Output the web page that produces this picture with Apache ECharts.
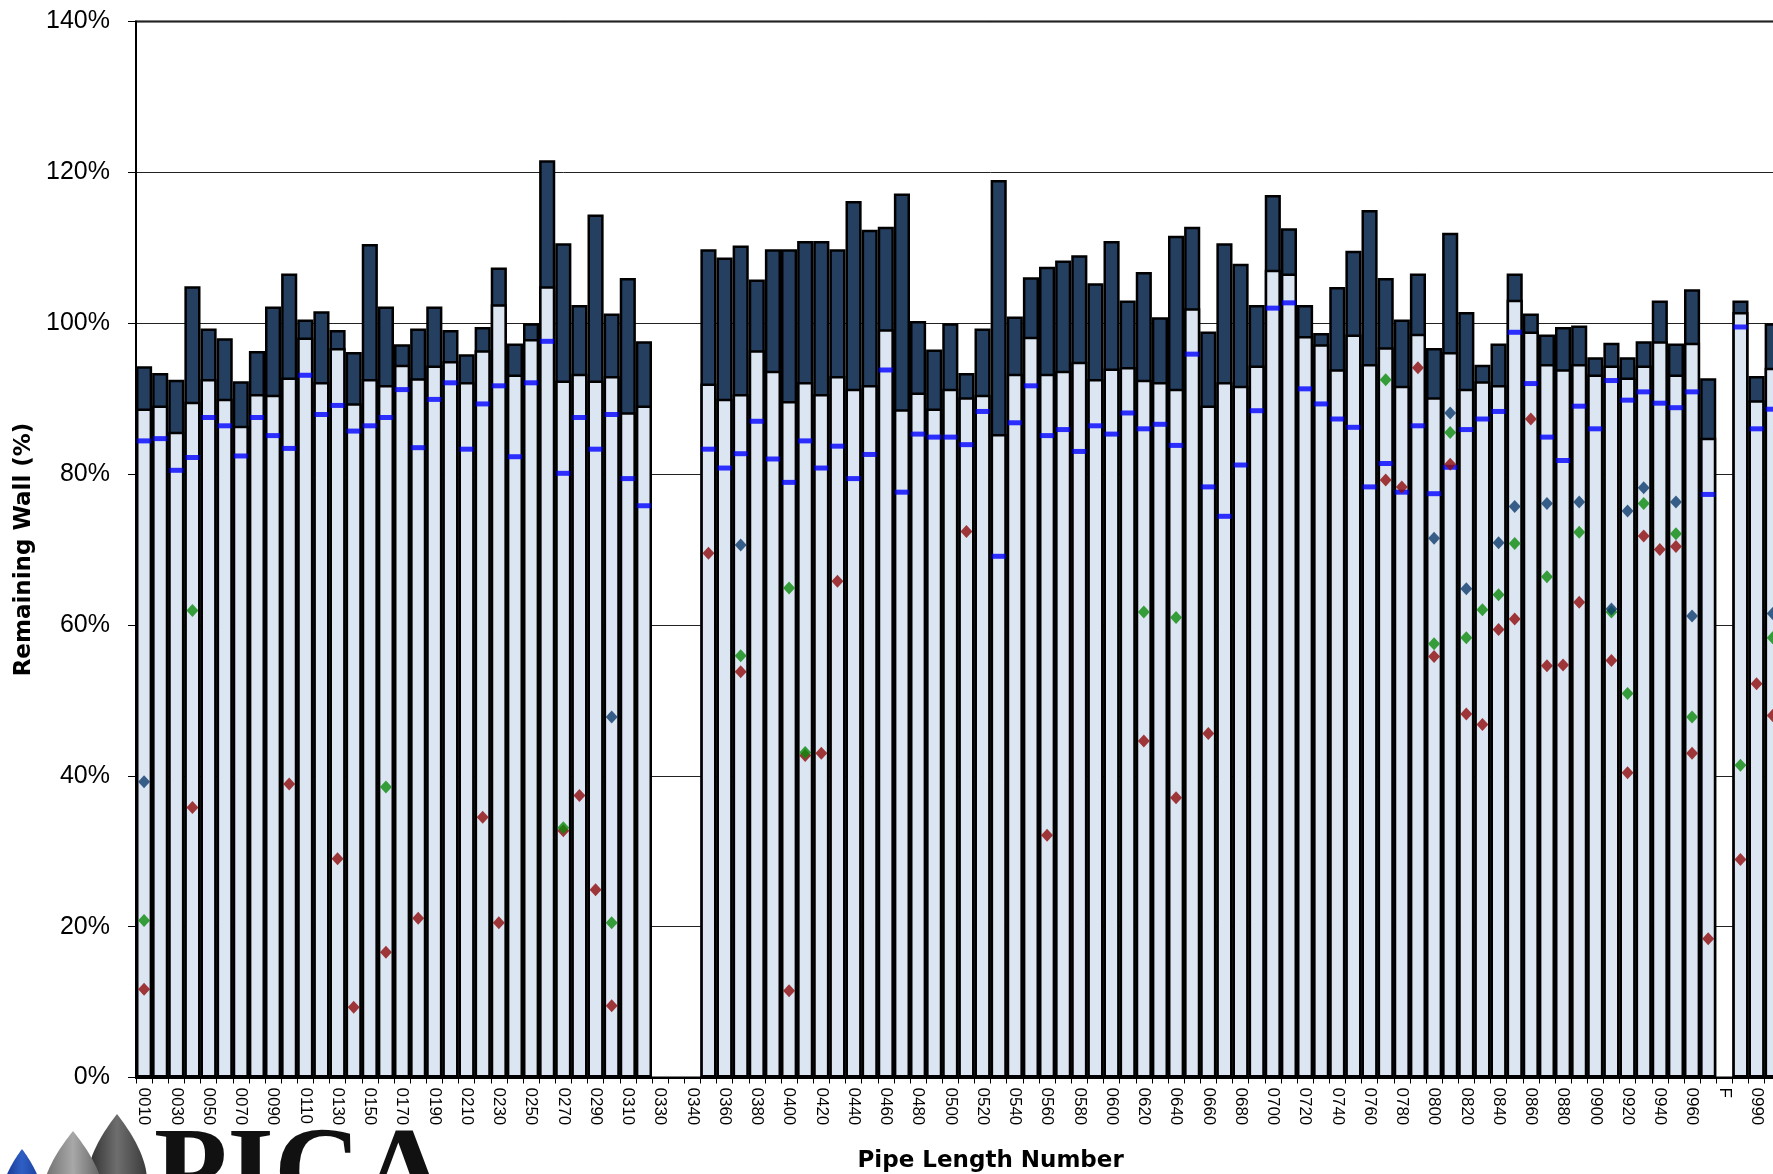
<!DOCTYPE html>
<html>
<head>
<meta charset="utf-8">
<script src="https://cdn.jsdelivr.net/npm/echarts@6/dist/echarts.min.js"></script>
<style>
html,body{margin:0;padding:0;background:#fff;overflow:hidden;width:1773px;height:1174px;}
#chart{width:1860px;height:1174px;}
</style>
</head>
<body>
<div id="chart"></div>
<script>
// Pipe length numbers (x categories)
const categories = [
 '0010','0020','0030','0040','0050','0060','0070','0080','0090','0100',
 '0110','0120','0130','0140','0150','0160','0170','0180','0190','0200',
 '0210','0220','0230','0240','0250','0260','0270','0280','0290','0300',
 '0310','0320','0330','0335','0340','0350','0360','0370','0380','0390',
 '0400','0410','0420','0430','0440','0450','0460','0470','0480','0490',
 '0500','0510','0520','0530','0540','0550','0560','0570','0580','0590',
 '0600','0610','0620','0630','0640','0650','0660','0670','0680','0690',
 '0700','0710','0720','0730','0740','0750','0760','0770','0780','0790',
 '0800','0810','0820','0830','0840','0850','0860','0870','0880','0890',
 '0900','0910','0920','0930','0940','0950','0960','0970','F','0980',
 '0990','1000','1010','1020','1030','1040'
];
// Top of dark bar (%)
const maxWall = [
 94.3, 93.4, 92.5, 104.9, 99.3, 98.0, 92.3, 96.3, 102.2, 106.6,
 100.5, 101.6, 99.1, 96.2, 110.5, 102.2, 97.2, 99.3, 102.2, 99.1,
 95.9, 99.5, 107.4, 97.3, 100.0, 121.6, 110.6, 102.4, 114.4, 101.3,
 106.0, 97.6, null, null, null, 109.8, 108.7, 110.3, 105.8, 109.8,
 109.8, 110.9, 110.9, 109.8, 116.2, 112.4, 112.8, 117.2, 100.3, 96.5,
 100.0, 93.4, 99.3, 119.0, 100.9, 106.1, 107.5, 108.3, 109.0, 105.3,
 110.9, 103.0, 106.8, 100.8, 111.6, 112.8, 98.9, 110.6, 107.9, 102.4,
 117.0, 112.6, 102.4, 98.7, 104.8, 109.6, 115.0, 106.0, 100.5, 106.6,
 96.7, 112.0, 101.5, 94.5, 97.3, 106.6, 101.3, 98.5, 99.5, 99.7,
 95.5, 97.4, 95.5, 97.6, 103.0, 97.3, 104.5, 92.7, null, 103.0,
 93.0, 100.0, null, null, null, null
];
// Top of light bar (%)
const minWall = [
 88.7, 89.1, 85.6, 89.6, 92.6, 90.0, 86.4, 90.6, 90.5, 92.8,
 98.1, 92.2, 96.7, 89.4, 92.6, 91.8, 94.5, 92.7, 94.4, 95.0,
 92.2, 96.4, 102.5, 93.2, 97.9, 104.9, 92.4, 93.3, 92.4, 93.0,
 88.2, 89.1, null, null, null, 92.0, 90.0, 90.6, 96.4, 93.7,
 89.7, 92.2, 90.6, 93.0, 91.3, 91.8, 99.2, 88.6, 90.8, 88.7,
 91.3, 90.2, 90.5, 85.3, 93.3, 98.2, 93.3, 93.7, 94.9, 92.6,
 94.0, 94.2, 92.5, 92.2, 91.3, 102.0, 89.1, 92.2, 91.7, 94.4,
 107.1, 106.6, 98.3, 97.2, 93.9, 98.5, 94.6, 96.8, 91.7, 98.6,
 90.2, 96.2, 91.3, 92.3, 91.8, 103.1, 98.9, 94.6, 93.9, 94.6,
 93.2, 94.4, 92.8, 94.4, 97.6, 93.2, 97.4, 84.8, null, 101.5,
 89.8, 94.1, null, null, null, null
];
// Blue dash marker (%)
const dashWall = [
 84.4, 84.7, 80.5, 82.2, 87.5, 86.4, 82.4, 87.5, 85.1, 83.4,
 93.1, 87.9, 89.1, 85.7, 86.4, 87.5, 91.2, 83.5, 89.9, 92.1,
 83.3, 89.3, 91.7, 82.3, 92.1, 97.6, 80.1, 87.5, 83.3, 87.9,
 79.4, 75.8, null, null, null, 83.3, 80.8, 82.7, 87.0, 82.0,
 78.9, 84.4, 80.8, 83.7, 79.4, 82.6, 93.8, 77.6, 85.3, 84.9,
 84.9, 83.9, 88.3, 69.1, 86.8, 91.7, 85.1, 85.9, 83.0, 86.4,
 85.3, 88.1, 86.0, 86.6, 83.8, 95.9, 78.3, 74.4, 81.2, 88.4,
 102.0, 102.7, 91.3, 89.3, 87.3, 86.2, 78.3, 81.4, 77.6, 86.4,
 77.4, 80.9, 85.9, 87.3, 88.3, 98.8, 92.0, 84.9, 81.8, 89.0,
 86.0, 92.4, 89.8, 90.9, 89.4, 88.8, 90.9, 77.3, null, 99.5,
 86.0, 88.6, null, null, null, null
];
// Navy diamonds
const navyCats = ['0010','0300','0370','0800','0810','0820','0840','0850','0870','0890','0910','0920','0930','0950','0960','1000'];
const navyVals = [39.2, 47.8, 70.6, 71.5, 88.1, 64.8, 70.9, 75.7, 76.1, 76.3, 62.1, 75.1, 78.2, 76.3, 61.2, 61.5];
// Green diamonds
const greenCats = ['0010','0040','0160','0270','0300','0370','0400','0410','0620','0640','0770','0800','0810','0820','0830','0840','0850','0870','0890','0910','0920','0930','0950','0960','0980','1000'];
const greenVals = [20.8, 61.9, 38.5, 33.1, 20.5, 55.9, 64.9, 43.1, 61.7, 61.0, 92.5, 57.5, 85.5, 58.3, 62.0, 64.0, 70.8, 66.4, 72.3, 61.7, 50.9, 76.1, 72.1, 47.8, 41.4, 58.3];
// Red diamonds
const redCats = ['0010','0040','0100','0130','0140','0160','0180','0220','0230','0270','0280','0290','0300','0350','0370','0400','0410','0420','0430','0510','0560','0620','0640','0660','0770','0780','0790','0800','0810','0820','0830','0840','0850','0860','0870','0880','0890','0910','0920','0930','0940','0950','0960','0970','0980','0990','1000'];
const redVals = [11.7, 35.8, 38.9, 29.0, 9.3, 16.6, 21.1, 34.5, 20.5, 32.7, 37.4, 24.9, 9.5, 69.5, 53.8, 11.5, 42.7, 43.0, 65.8, 72.4, 32.1, 44.6, 37.1, 45.6, 79.2, 78.3, 94.1, 55.8, 81.3, 48.2, 46.8, 59.4, 60.8, 87.3, 54.6, 54.7, 63.0, 55.3, 40.4, 71.8, 70.0, 70.4, 43.0, 18.4, 28.9, 52.2, 48.0];
const yTicks = [0, 20, 40, 60, 80, 100, 120, 140];

function pairs(cats, vals) { return cats.map((c, i) => [c, vals[i]]); }
// teardrop outline for the logo decoration
function dropPoints(cx, ty, height, halfWidth) {
  const pts = [];
  const R = halfWidth / 0.77;
  for (let k = 0; k <= 72; k++) {
    const t = (k / 72) * 2 * Math.PI;
    pts.push([cx + R * Math.sin(t) * Math.sin(t / 2), ty + height * (1 - Math.cos(t)) / 2]);
  }
  return pts;
}
function grad(c0, c1, c2) {
  return {type: 'linear', x: 0, y: 0, x2: 1, y2: 0,
          colorStops: [{offset: 0, color: c0}, {offset: 0.5, color: c1}, {offset: 1, color: c2}]};
}

const chart = echarts.init(document.getElementById('chart'), null, {renderer: 'canvas'});
const option = {
  animation: false,
  backgroundColor: '#fff',
  grid: {left: 136, top: 21.5, width: 1709.25, height: 1056, outerBoundsMode: 'none', containLabel: false,
         show: true, borderColor: '#000', borderWidth: 2, backgroundColor: 'transparent'},
  xAxis: {
    type: 'category', data: categories, boundaryGap: true,
    name: 'Pipe Length Number', nameLocation: 'middle', nameGap: 72,
    nameTextStyle: {fontFamily: 'DejaVu Sans', fontWeight: 'bold', fontSize: 23, color: '#000'},
    axisLine: {lineStyle: {color: '#000', width: 2}},
    axisTick: {show: true, interval: 0, length: 6, lineStyle: {color: '#000', width: 1}},
    axisLabel: {interval: 1, rotate: -90, margin: 10, fontFamily: 'Liberation Sans', fontSize: 17, color: '#000'},
    splitLine: {show: false}
  },
  yAxis: {
    type: 'value', min: yTicks[0], max: yTicks[yTicks.length - 1], interval: 20,
    name: 'Remaining Wall (%)', nameLocation: 'middle', nameGap: 100,
    nameTextStyle: {fontFamily: 'DejaVu Sans', fontWeight: 'bold', fontSize: 23, color: '#000'},
    axisLine: {show: true, lineStyle: {color: '#000', width: 2}},
    axisTick: {show: true, length: 8, lineStyle: {color: '#000', width: 1}},
    axisLabel: {formatter: '{value}%', margin: 26, fontFamily: 'Liberation Sans', fontSize: 25, color: '#000'},
    splitLine: {show: true, lineStyle: {color: '#222', width: 1}}
  },
  series: [
    {type: 'bar', name: 'Max', data: maxWall, barCategoryGap: '0%', barGap: '-100%',
     itemStyle: {color: '#253F60', borderColor: '#000', borderWidth: 2.5}},
    {type: 'bar', name: 'Min', data: minWall, barCategoryGap: '0%', barGap: '-100%',
     itemStyle: {color: '#DCE6F2', borderColor: '#000', borderWidth: 2.5}},
    {type: 'scatter', name: 'Avg', data: dashWall, symbol: 'rect', symbolSize: [14, 5],
     itemStyle: {color: '#0000FF'}, z: 3},
    {type: 'scatter', name: 'Red', data: pairs(redCats, redVals), symbol: 'diamond', symbolSize: [12, 13],
     itemStyle: {color: '#8E0A0A'}, z: 4},
    {type: 'scatter', name: 'Green', data: pairs(greenCats, greenVals), symbol: 'diamond', symbolSize: [12, 13],
     itemStyle: {color: '#0A8A0A'}, z: 5},
    {type: 'scatter', name: 'Navy', data: pairs(navyCats, navyVals), symbol: 'diamond', symbolSize: [12, 13],
     itemStyle: {color: '#0D3B6C'}, z: 6}
  ],
  graphic: [
    {type: 'polygon', z: 100, shape: {points: dropPoints(117, 1114, 100, 30)},
     style: {fill: grad('#2c2c2c', '#6e6e6e', '#3a3a3a')}},
    {type: 'polygon', z: 101, shape: {points: dropPoints(73, 1131, 100, 31)},
     style: {fill: grad('#6a6a6a', '#a8a8a8', '#5c5c5c')}},
    {type: 'polygon', z: 102, shape: {points: dropPoints(22, 1149, 70, 20)},
     style: {fill: grad('#12308a', '#2f5fc4', '#173a99')}},
    {type: 'text', z: 103, x: 154, y: 1119,
     style: {text: 'PICA', font: 'bold 120px "Liberation Serif"', fill: '#111', verticalAlign: 'top'}}
  ]
};
chart.setOption(option);
</script>
</body>
</html>
